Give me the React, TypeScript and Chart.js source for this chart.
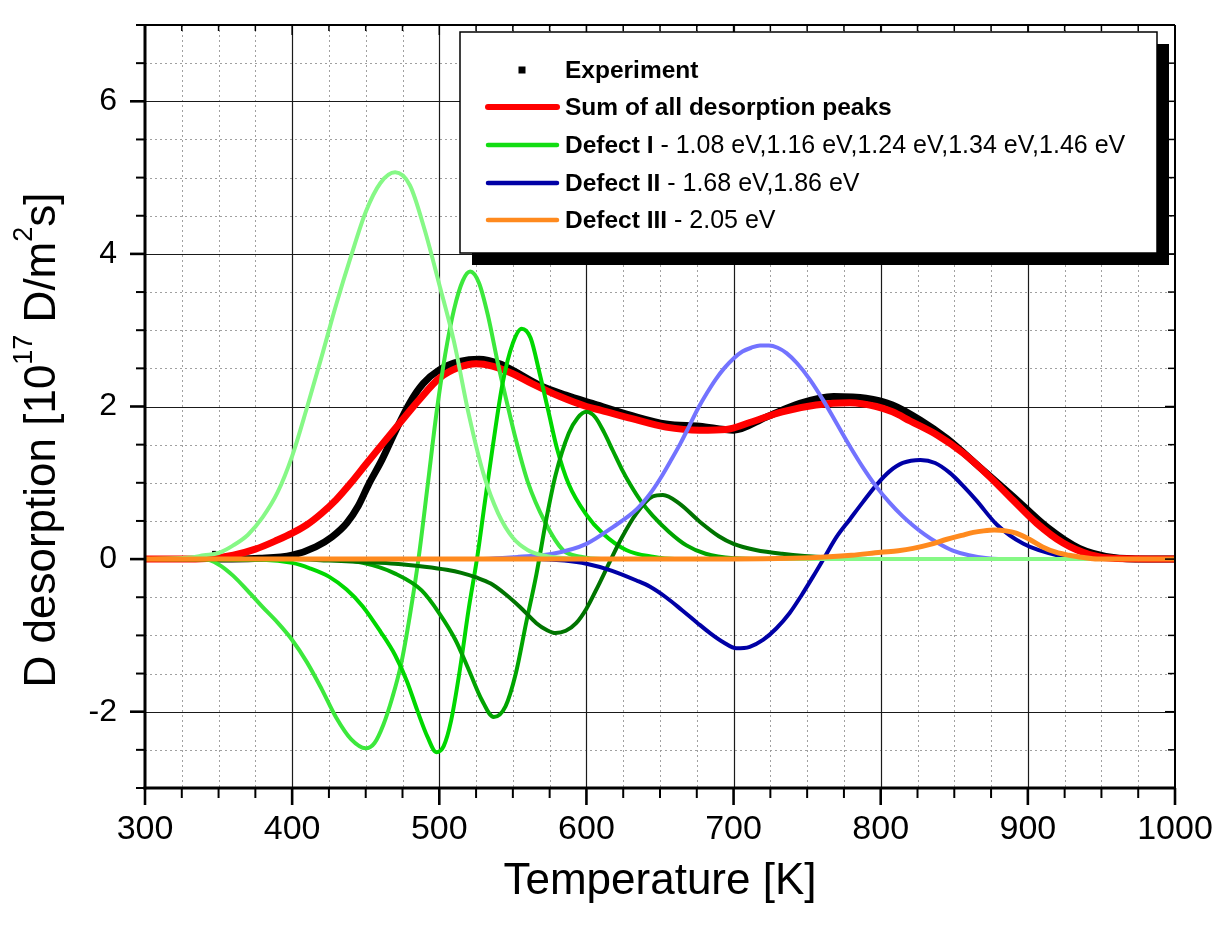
import React, { useEffect, useRef } from 'react';
import { Chart, registerables } from 'chart.js';

Chart.register(...registerables);

const FONT = '"Liberation Sans", Arial, Helvetica, sans-serif';

// ---- tick labels ----
const xTickLabels = [300, 400, 500, 600, 700, 800, 900, 1000];
const yTickLabels = [-2, 0, 2, 4, 6];

// ---- Experiment ----
const expT = [350, 378, 400, 416, 427, 437, 445, 452, 461, 470, 480, 489, 500, 514, 527, 541, 554, 568, 586, 604, 631, 654, 677, 700, 722, 745, 768, 790, 808, 827, 845, 867, 890, 913, 935, 958, 980, 1000];
const expV = [0, 0.01, 0.05, 0.16, 0.29, 0.47, 0.7, 0.98, 1.3, 1.67, 2.05, 2.3, 2.48, 2.59, 2.62, 2.56, 2.43, 2.28, 2.15, 2.04, 1.88, 1.77, 1.74, 1.69, 1.86, 2.04, 2.13, 2.11, 2.02, 1.82, 1.58, 1.21, 0.82, 0.42, 0.14, 0.02, 0, 0];
const expDotT = [347, 373];
const expDotV = [0.08, 0.13];

// ---- Sum of all desorption peaks ----
const sumT = [300, 330, 345, 360, 375, 390, 400, 410, 420, 430, 440, 450, 461, 473, 486, 500, 513, 525, 536, 550, 563, 582, 600, 610, 631, 654, 677, 695, 711, 733, 756, 779, 797, 808, 820, 838, 856, 874, 890, 906, 924, 942, 958, 1000];
const sumV = [0, 0, 0.01, 0.05, 0.13, 0.25, 0.34, 0.45, 0.6, 0.78, 1.0, 1.24, 1.5, 1.78, 2.08, 2.37, 2.51, 2.56, 2.53, 2.43, 2.3, 2.13, 2.0, 1.95, 1.84, 1.73, 1.69, 1.7, 1.79, 1.93, 2.02, 2.05, 2.0, 1.93, 1.81, 1.63, 1.39, 1.08, 0.77, 0.47, 0.21, 0.06, 0.01, 0];

// ---- Defect I components ----
const g1T = [300, 330, 340, 350, 360, 370, 380, 390, 400, 410, 420, 430, 440, 450, 460, 470, 480, 490, 500, 510, 520, 530, 540, 550, 560, 570, 580, 600, 1000];
const g1V = [0, 0.02, 0.05, 0.08, 0.18, 0.32, 0.55, 0.87, 1.35, 1.98, 2.65, 3.34, 3.97, 4.55, 4.93, 5.07, 4.9, 4.32, 3.6, 2.85, 1.9, 1.12, 0.6, 0.28, 0.12, 0.05, 0.02, 0, 0];

const g2T = [300, 340, 350, 360, 370, 380, 390, 400, 410, 420, 430, 440, 450, 456, 462, 468, 474, 480, 486, 492, 498, 504, 510, 516, 521, 527, 533, 540, 546, 552, 560, 572, 584, 596, 610, 1000];
const g2V = [0, 0, -0.07, -0.22, -0.42, -0.63, -0.83, -1.06, -1.35, -1.7, -2.08, -2.36, -2.48, -2.41, -2.17, -1.82, -1.38, -0.74, 0.02, 0.95, 1.9, 2.68, 3.27, 3.65, 3.77, 3.62, 3.2, 2.55, 2.05, 1.57, 1.02, 0.48, 0.12, 0.03, 0, 0];

const g3T = [300, 380, 400, 412, 425, 437, 448, 460, 470, 478, 485, 492, 498, 503, 508, 514, 520, 526, 531, 536, 543, 550, 556, 562, 568, 574, 580, 588, 600, 611, 627, 645, 660, 1000];
const g3V = [0, -0.01, -0.05, -0.12, -0.23, -0.4, -0.62, -0.95, -1.26, -1.6, -1.98, -2.33, -2.53, -2.45, -2.12, -1.45, -0.65, 0.05, 0.75, 1.43, 2.3, 2.83, 3.02, 2.9, 2.45, 1.95, 1.45, 0.98, 0.58, 0.34, 0.12, 0.03, 0, 0];

const g4T = [300, 420, 448, 470, 488, 500, 511, 520, 529, 537, 545, 552, 559, 566, 573, 579, 588, 594, 600, 606, 612, 618, 624, 630, 637, 645, 656, 668, 681, 700, 720, 1000];
const g4V = [0, 0, -0.05, -0.19, -0.41, -0.71, -1.06, -1.45, -1.85, -2.07, -1.93, -1.5, -0.84, -0.2, 0.55, 1.1, 1.65, 1.85, 1.93, 1.86, 1.66, 1.42, 1.18, 0.97, 0.76, 0.57, 0.36, 0.18, 0.07, 0.01, 0, 0];

const g5T = [300, 400, 425, 450, 470, 490, 505, 515, 525, 535, 545, 555, 566, 573, 579, 586, 593, 600, 608, 616, 624, 634, 645, 652, 663, 677, 690, 700, 715, 733, 765, 800, 1000];
const g5V = [0, 0, -0.02, -0.04, -0.06, -0.1, -0.14, -0.18, -0.24, -0.32, -0.46, -0.63, -0.84, -0.93, -0.97, -0.94, -0.84, -0.65, -0.35, -0.03, 0.28, 0.6, 0.82, 0.84, 0.73, 0.49, 0.3, 0.2, 0.12, 0.07, 0.02, 0, 0];

// ---- Defect II components ----
const b1T = [300, 520, 554, 577, 600, 618, 634, 643, 650, 657, 664, 670, 676, 682, 688, 694, 700, 706, 712, 718, 724, 730, 736, 743, 752, 761, 770, 779, 788, 797, 806, 815, 822, 830, 838, 849, 860, 880, 1000];
const b1V = [0, 0, 0.03, 0.07, 0.2, 0.42, 0.65, 0.85, 1.05, 1.28, 1.52, 1.75, 1.98, 2.18, 2.36, 2.51, 2.63, 2.72, 2.77, 2.8, 2.8, 2.77, 2.7, 2.57, 2.35, 2.08, 1.78, 1.48, 1.2, 0.95, 0.74, 0.56, 0.44, 0.32, 0.22, 0.11, 0.05, 0, 0];

const b2T = [300, 565, 585, 600, 617, 634, 643, 654, 665, 675, 684, 693, 702, 711, 720, 729, 738, 746, 754, 762, 770, 779, 788, 797, 806, 815, 827, 837, 847, 856, 865, 879, 897, 920, 942, 1000];
const b2V = [0, 0, -0.02, -0.06, -0.15, -0.28, -0.36, -0.5, -0.67, -0.83, -0.97, -1.09, -1.17, -1.15, -1.06, -0.91, -0.71, -0.48, -0.23, 0.03, 0.29, 0.52, 0.75, 0.97, 1.15, 1.26, 1.3, 1.26, 1.13, 0.96, 0.77, 0.45, 0.2, 0.05, 0, 0];

// ---- Defect III ----
const oT = [300, 700, 740, 765, 780, 800, 812, 822, 833, 845, 855, 863, 870, 877, 885, 892, 901, 910, 919, 928, 938, 947, 1000];
const oV = [0, 0, 0.01, 0.03, 0.05, 0.09, 0.11, 0.14, 0.19, 0.26, 0.31, 0.35, 0.37, 0.38, 0.37, 0.34, 0.26, 0.16, 0.09, 0.05, 0.02, 0, 0];

// ---- legend / titles text ----
const legendBold = ['Experiment', 'Sum of all desorption peaks', 'Defect I', 'Defect II', 'Defect III'];
const legendRest = ['', '', ' - 1.08 eV,1.16 eV,1.24 eV,1.34 eV,1.46 eV', ' - 1.68 eV,1.86 eV', ' - 2.05 eV'];
const xTitle = 'Temperature [K]';
const yTitleParts = [
  { t: 'D desorption [10', sup: false },
  { t: '17', sup: true },
  { t: ' D/m', sup: false },
  { t: '2', sup: true },
  { t: 's]', sup: false },
];

const COLORS = {
  exp: '#000000',
  sum: '#ff0000',
  g1: '#86f886',
  g2: '#3ce83c',
  g3: '#00d800',
  g4: '#00a400',
  g5: '#007400',
  b1: '#7373ff',
  b2: '#0000a6',
  o: '#ff8a1e',
  defI: '#12dd12',
};
const legendColors = [COLORS.exp, COLORS.sum, COLORS.defI, COLORS.b2, COLORS.o];

const pts = (t: number[], v: number[]) => t.map((x, i) => ({ x, y: v[i] }));

function lineDs(label: string, t: number[], v: number[], color: string, width: number, order: number) {
  return {
    type: 'line',
    label,
    data: pts(t, v),
    borderColor: color,
    backgroundColor: color,
    borderWidth: width,
    pointRadius: 0,
    fill: false,
    cubicInterpolationMode: 'monotone',
    borderCapStyle: 'round',
    borderJoinStyle: 'round',
    order,
  };
}

function seg(ctx: CanvasRenderingContext2D, x1: number, y1: number, x2: number, y2: number) {
  ctx.beginPath();
  ctx.moveTo(x1, y1);
  ctx.lineTo(x2, y2);
  ctx.stroke();
}

const originPlugin = {
  id: 'originStyle',
  beforeDatasetsDraw(chart: any) {
    const { ctx, chartArea: a, scales } = chart;
    const x = scales.x, y = scales.y;
    ctx.save();
    ctx.strokeStyle = 'rgba(150,150,150,0.9)';
    ctx.lineWidth = 1;
    ctx.setLineDash([2, 3]);
    for (let v = 325; v < 1000; v += 25) {
      if (v % 100 === 0) continue;
      const px = Math.round(x.getPixelForValue(v)) + 0.5;
      seg(ctx, px, a.top, px, a.bottom);
    }
    for (let v = -2.5; v < 7; v += 0.5) {
      if (v % 2 === 0) continue;
      const py = Math.round(y.getPixelForValue(v)) + 0.5;
      seg(ctx, a.left, py, a.right, py);
    }
    ctx.setLineDash([]);
    ctx.strokeStyle = '#1a1a1a';
    ctx.lineWidth = 1.2;
    xTickLabels.forEach((v) => {
      if (v === 300 || v === 1000) return;
      const px = Math.round(x.getPixelForValue(v)) + 0.5;
      seg(ctx, px, a.top, px, a.bottom);
    });
    yTickLabels.forEach((v) => {
      const py = Math.round(y.getPixelForValue(v)) + 0.5;
      seg(ctx, a.left, py, a.right, py);
    });
    ctx.restore();
  },
  afterDatasetsDraw(chart: any) {
    const { ctx, chartArea: a, scales } = chart;
    const x = scales.x, y = scales.y;
    ctx.save();
    ctx.strokeStyle = '#000';
    ctx.setLineDash([]);
    for (let v = 300; v <= 1000; v += 25) {
      const major = v % 100 === 0;
      const px = x.getPixelForValue(v);
      ctx.lineWidth = major ? 2.6 : 2;
      seg(ctx, px, a.bottom, px, a.bottom + (major ? 17 : 10));
      ctx.lineWidth = 1.5;
      seg(ctx, px, a.top, px, a.top + (major ? 10 : 6));
    }
    for (let v = -3; v <= 7; v += 0.5) {
      const major = v % 2 === 0;
      const py = y.getPixelForValue(v);
      ctx.lineWidth = major ? 2.6 : 2;
      seg(ctx, a.left - (major ? 15 : 9), py, a.left, py);
      ctx.lineWidth = 1.5;
      seg(ctx, a.right - (major ? 10 : 7), py, a.right, py);
    }
    ctx.lineWidth = 2;
    seg(ctx, a.left, a.top, a.right, a.top);
    seg(ctx, a.right, a.top, a.right, a.bottom);
    ctx.lineWidth = 3;
    seg(ctx, a.left, a.top - 1, a.left, a.bottom + 1.5);
    seg(ctx, a.left - 1.5, a.bottom, a.right + 1, a.bottom);
    ctx.restore();
  },
  afterDraw(chart: any) {
    const { ctx } = chart;
    ctx.save();
    const bx = 460, by = 32, bw = 697, bh = 221;
    ctx.fillStyle = '#000';
    ctx.fillRect(bx + 12, by + 12, bw, bh);
    ctx.fillStyle = '#fff';
    ctx.fillRect(bx, by, bw, bh);
    ctx.strokeStyle = '#000';
    ctx.lineWidth = 1.5;
    ctx.strokeRect(bx, by, bw, bh);
    const rows = [70, 107, 145, 183, 220];
    ctx.textBaseline = 'middle';
    ctx.textAlign = 'left';
    legendBold.forEach((b, i) => {
      const ry = rows[i];
      const col = legendColors[i];
      if (i === 0) {
        ctx.fillStyle = col;
        ctx.fillRect(522 - 3.5, ry - 3.5, 7, 7);
      } else {
        ctx.strokeStyle = col;
        ctx.lineWidth = i === 1 ? 6 : 4.5;
        ctx.lineCap = 'round';
        seg(ctx, 488, ry, 557, ry);
      }
      ctx.fillStyle = '#000';
      ctx.font = `bold 24.5px ${FONT}`;
      ctx.fillText(b, 565, ry + 1);
      const w = ctx.measureText(b).width;
      if (legendRest[i]) {
        ctx.font = `25px ${FONT}`;
        ctx.fillText(legendRest[i], 565 + w, ry + 1);
      }
    });
    ctx.fillStyle = '#000';
    ctx.font = `44px ${FONT}`;
    ctx.textAlign = 'center';
    ctx.textBaseline = 'alphabetic';
    ctx.fillText(xTitle, 660, 894);
    ctx.translate(39, 440);
    ctx.rotate(-Math.PI / 2);
    ctx.textAlign = 'left';
    const widths = yTitleParts.map((p) => {
      ctx.font = `${p.sup ? 27 : 44}px ${FONT}`;
      return ctx.measureText(p.t).width;
    });
    const total = widths.reduce((s, w) => s + w, 0);
    let cx = -total / 2;
    yTitleParts.forEach((p, i) => {
      ctx.font = `${p.sup ? 27 : 44}px ${FONT}`;
      ctx.fillText(p.t, cx, p.sup ? -7 : 16);
      cx += widths[i];
    });
    ctx.restore();
  },
};

export default function App() {
  const ref = useRef<HTMLCanvasElement>(null);
  useEffect(() => {
    const canvas = ref.current;
    if (!canvas) return;
    const datasets: any[] = [
      lineDs('Experiment', expT, expV, COLORS.exp, 7, 20),
      {
        type: 'scatter',
        label: 'Experiment points',
        data: pts(expDotT, expDotV),
        pointStyle: 'rect',
        pointRadius: 3,
        backgroundColor: '#000',
        borderColor: '#000',
        borderWidth: 0,
        showLine: false,
        order: 19,
      },
      lineDs('Sum of all desorption peaks', sumT, sumV, COLORS.sum, 7, 18),
      lineDs('Defect I 1.16', g2T, g2V, COLORS.g2, 4, 10),
      lineDs('Defect I 1.24', g3T, g3V, COLORS.g3, 4, 9),
      lineDs('Defect I 1.34', g4T, g4V, COLORS.g4, 4, 8),
      lineDs('Defect I 1.46', g5T, g5V, COLORS.g5, 4, 7),
      lineDs('Defect II 1.86', b2T, b2V, COLORS.b2, 4, 5),
      lineDs('Defect II 1.68', b1T, b1V, COLORS.b1, 4, 4),
      lineDs('Defect I 1.08', g1T, g1V, COLORS.g1, 4, 2),
      lineDs('Defect III 2.05', oT, oV, COLORS.o, 5, 0),
    ];
    const chart = new Chart(canvas, {
      type: 'line',
      data: { datasets },
      plugins: [originPlugin],
      options: {
        animation: false,
        responsive: false,
        devicePixelRatio: 1,
        layout: { padding: { top: 25, right: 53, left: 0, bottom: 0 } },
        plugins: {
          legend: { display: false },
          tooltip: { enabled: false },
          title: { display: false },
        },
        scales: {
          x: {
            type: 'linear',
            min: 300,
            max: 1000,
            afterBuildTicks: (s: any) => {
              s.ticks = xTickLabels.map((v) => ({ value: v }));
            },
            afterFit: (s: any) => {
              s.height = 137;
              s.paddingLeft = 0;
              s.paddingRight = 0;
              s.paddingTop = 0;
              s.paddingBottom = 0;
            },
            grid: { display: false, drawTicks: false },
            border: { display: false },
            ticks: {
              autoSkip: false,
              maxRotation: 0,
              padding: 21,
              color: '#000',
              font: { family: FONT, size: 34 },
              callback: (v: any) => String(v),
            },
          },
          y: {
            type: 'linear',
            min: -3,
            max: 7,
            afterBuildTicks: (s: any) => {
              s.ticks = yTickLabels.map((v) => ({ value: v }));
            },
            afterFit: (s: any) => {
              s.width = 145;
              s.paddingLeft = 0;
              s.paddingRight = 0;
              s.paddingTop = 0;
              s.paddingBottom = 0;
            },
            grid: { display: false, drawTicks: false },
            border: { display: false },
            ticks: {
              autoSkip: false,
              padding: 28,
              color: '#000',
              font: { family: FONT, size: 32 },
              callback: (v: any) => String(v),
            },
          },
        },
      } as any,
    } as any);
    return () => chart.destroy();
  }, []);
  return (
    <div style={{ position: 'absolute', left: 0, top: 0, width: 1228, height: 925, background: '#fff' }}>
      <canvas ref={ref} width={1228} height={925} style={{ display: 'block', width: 1228, height: 925 }} />
    </div>
  );
}
